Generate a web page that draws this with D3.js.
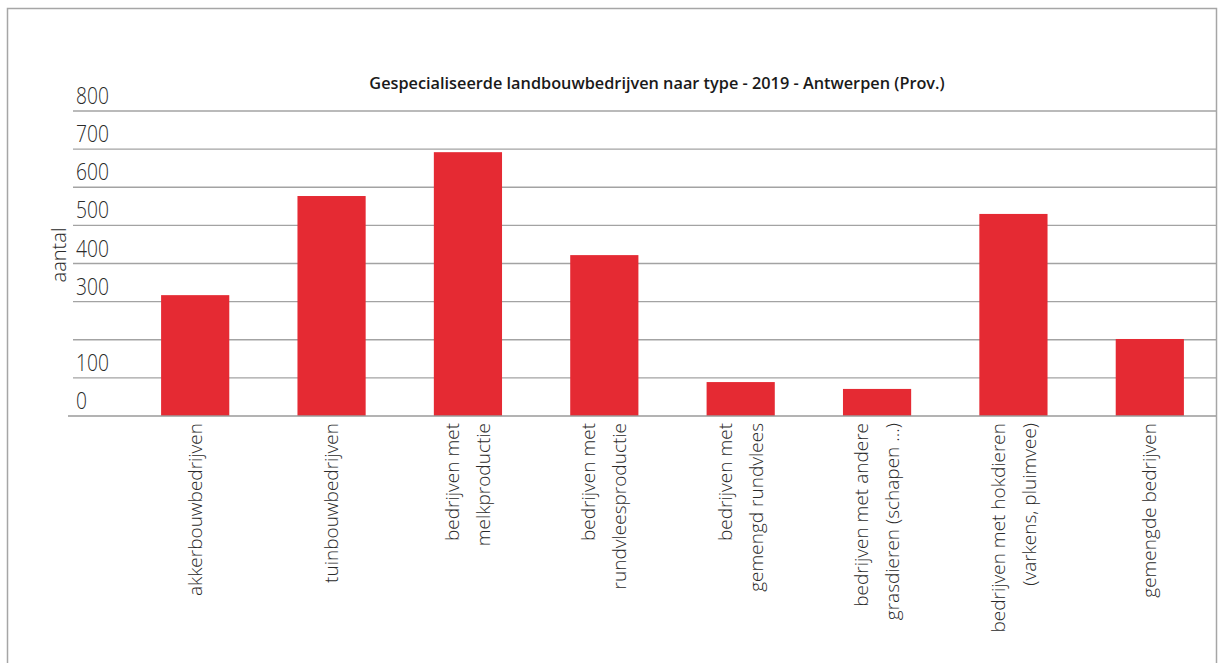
<!DOCTYPE html>
<html>
<head>
<meta charset="utf-8">
<script src="https://cdn.jsdelivr.net/npm/d3@7"></script>
<style>
  html, body { margin: 0; padding: 0; background: #fff; }
  svg { display: block; }
  text { font-family: "Open Sans", "DejaVu Sans", sans-serif; }
</style>
</head>
<body>
<script>
const title = "Gespecialiseerde landbouwbedrijven naar type - 2019 - Antwerpen (Prov.)";
const yAxisTitle = "aantal";
const categories = [
  ["akkerbouwbedrijven"],
  ["tuinbouwbedrijven"],
  ["bedrijven met", "melkproductie"],
  ["bedrijven met", "rundvleesproductie"],
  ["bedrijven met", "gemengd rundvlees"],
  ["bedrijven met andere", "grasdieren (schapen ...)"],
  ["bedrijven met hokdieren", "(varkens, pluimvee)"],
  ["gemengde bedrijven"]
];
const values = [317, 577, 692, 422, 89, 71, 530, 202];
const gridValues = [0, 100, 200, 300, 400, 500, 600, 700, 800];
const tickLabels = [0, 100, 300, 400, 500, 600, 700, 800];

const W = 1218, H = 663;
const svg = d3.select("body").append("svg").attr("width", W).attr("height", H);

// frame
svg.append("rect")
  .attr("x", 7.5).attr("y", 8.5).attr("width", 1209).attr("height", 700)
  .attr("fill", "none").attr("stroke", "#a6a6a6").attr("stroke-width", 1.5);

const y = d3.scaleLinear().domain([0, 800]).range([416, 111]);
const x = d3.scaleBand().domain(d3.range(categories.length)).range([127, 1218])
  .paddingInner(0.5).paddingOuter(0.25);

// gridlines
svg.append("g").selectAll("line")
  .data(gridValues.filter(d => d > 0))
  .join("line")
  .attr("x1", 73).attr("x2", 1216)
  .attr("y1", d => y(d)).attr("y2", d => y(d))
  .attr("stroke", "#a3a3a3").attr("stroke-width", 1.4);

// bars
svg.append("g").selectAll("rect")
  .data(values)
  .join("rect")
  .attr("x", (d, i) => x(i))
  .attr("width", x.bandwidth())
  .attr("y", d => y(d))
  .attr("height", d => y(0) - y(d))
  .attr("fill", "#e52a33");

// baseline
svg.append("line")
  .attr("x1", 68).attr("x2", 1216)
  .attr("y1", y(0)).attr("y2", y(0))
  .attr("stroke", "#9a9a9a").attr("stroke-width", 1.5);

// y tick labels (placed above their gridline)
svg.append("g").selectAll("text")
  .data(tickLabels)
  .join("text")
  .attr("transform", d => `translate(76,${y(d) - 7}) scale(0.8,1)`)
  .attr("font-size", 24)
  .attr("font-weight", 300)
  .attr("fill", "#2a2a2a")
  .text(d => d);

// y axis title
svg.append("text")
  .attr("transform", "translate(66,255) rotate(-90)")
  .attr("text-anchor", "middle")
  .attr("font-size", 20)
  .attr("font-weight", 300)
  .attr("fill", "#2a2a2a")
  .text(yAxisTitle);

// title
svg.append("text")
  .attr("x", 657).attr("y", 89)
  .attr("text-anchor", "middle")
  .attr("font-size", 16.3)
  .attr("font-weight", 600)
  .attr("fill", "#1a1a1a")
  .text(title);

// category labels, rotated
const lineGap = 31;
const cat = svg.append("g").selectAll("g")
  .data(categories)
  .join("g")
  .attr("transform", (d, i) => `translate(${x(i) + x.bandwidth() / 2},423) rotate(-90)`);
cat.selectAll("text")
  .data(d => d.map((t, j) => ({t, off: (j - (d.length - 1) / 2) * lineGap})))
  .join("text")
  .attr("x", 0)
  .attr("y", d => d.off)
  .attr("dy", "0.35em")
  .attr("text-anchor", "end")
  .attr("font-size", 19)
  .attr("font-weight", 300)
  .attr("fill", "#2a2a2a")
  .text(d => d.t);
</script>
</body>
</html>
